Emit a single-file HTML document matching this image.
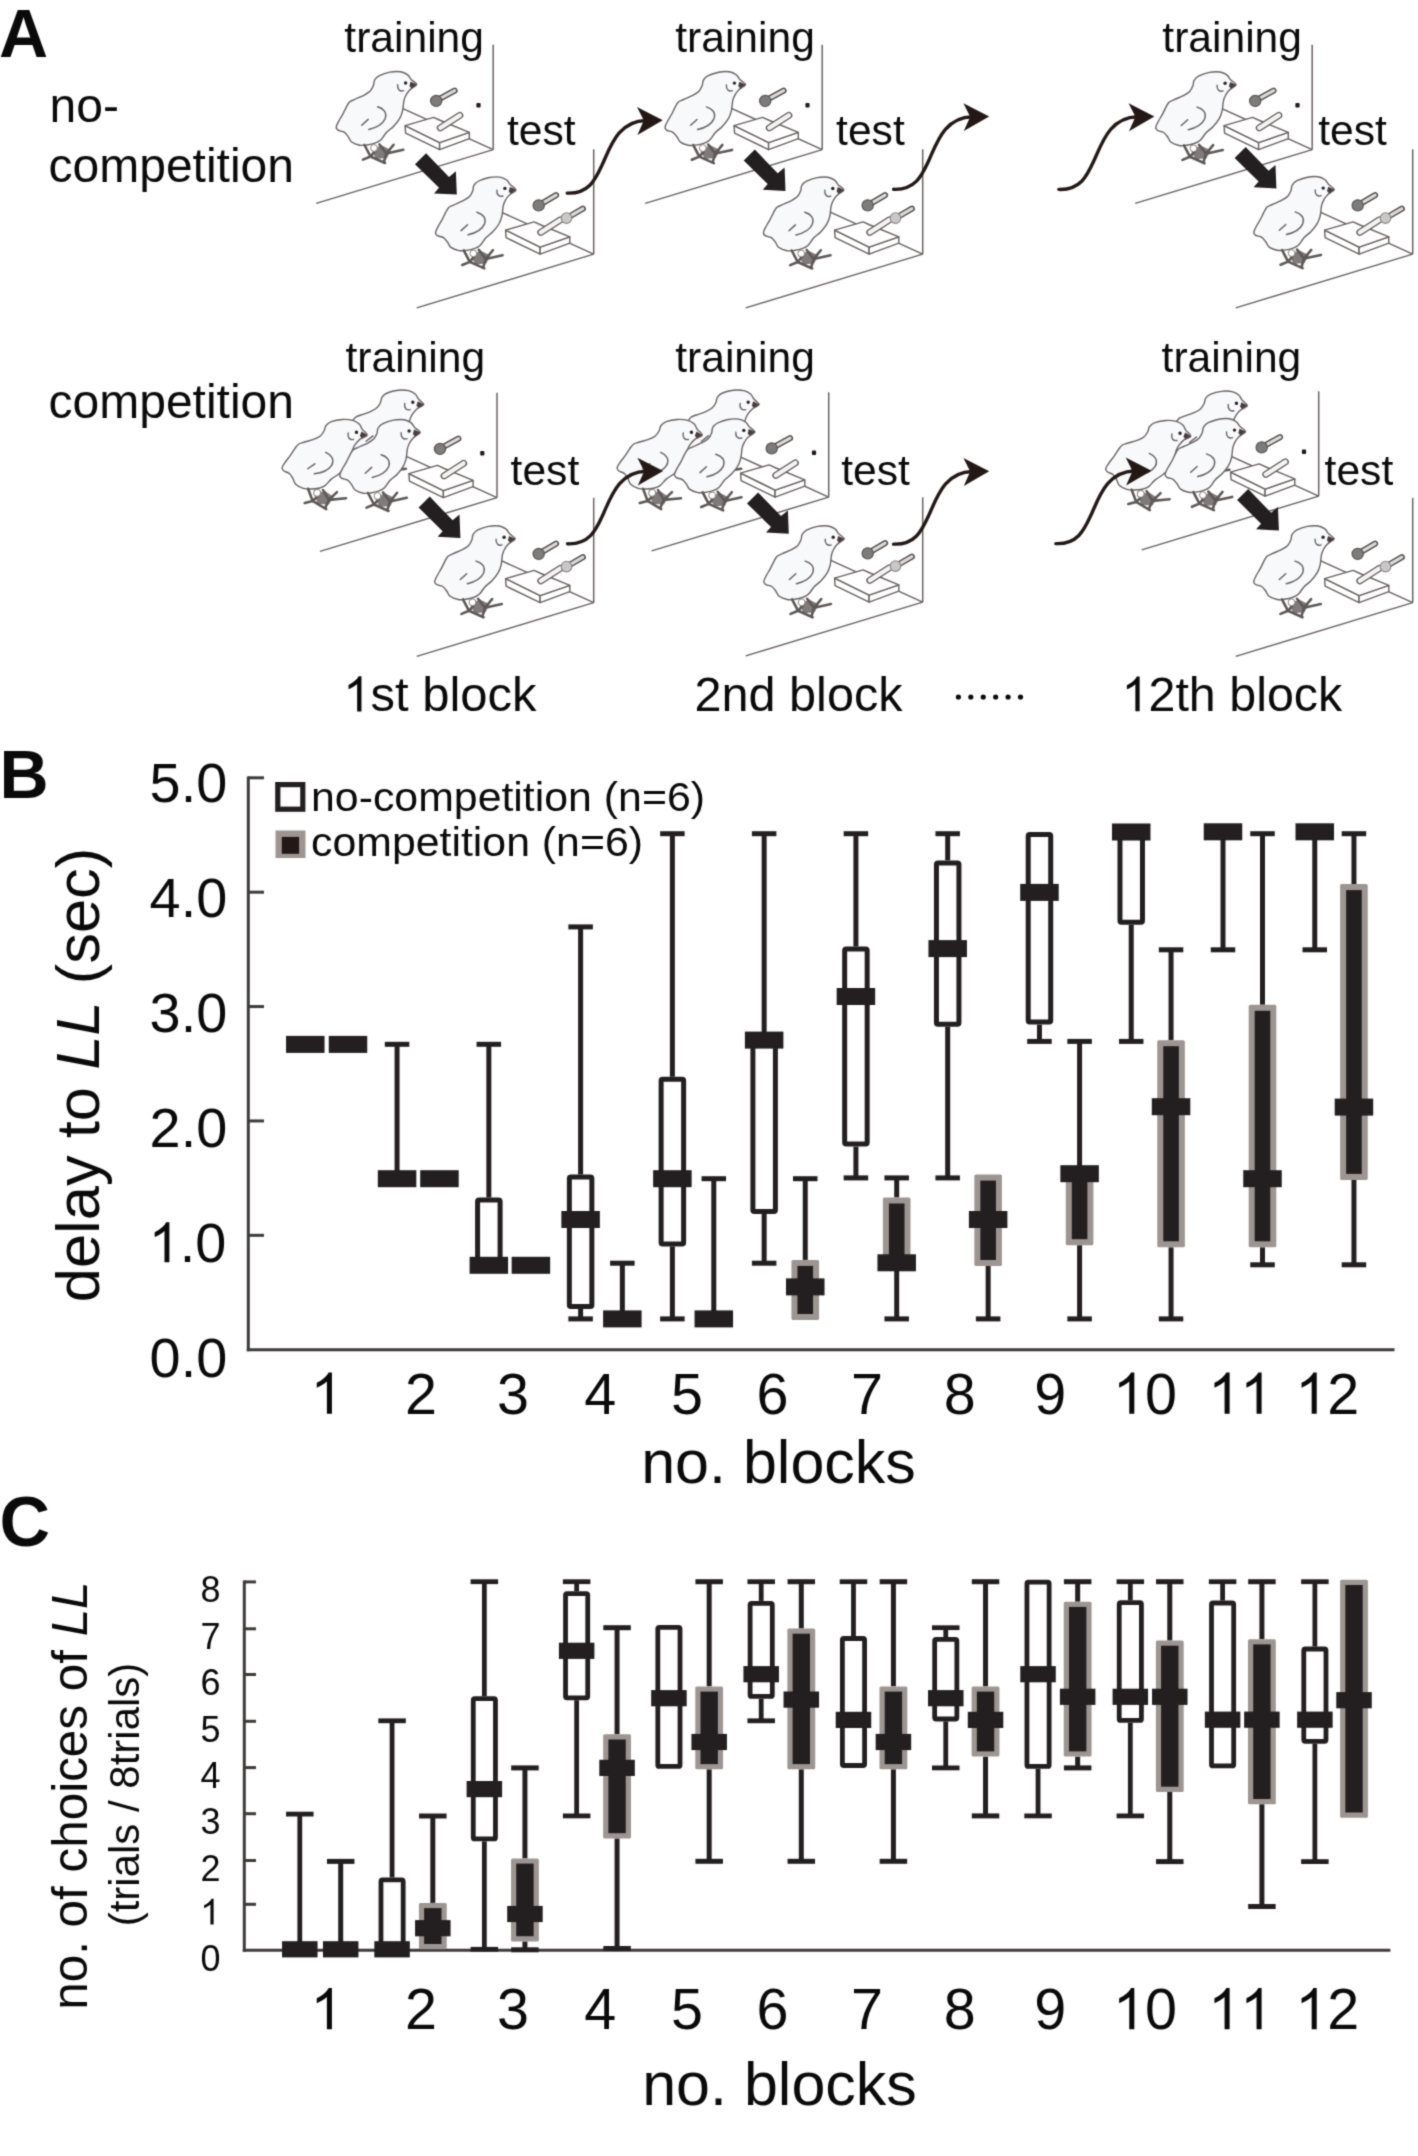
<!DOCTYPE html>
<html><head><meta charset="utf-8"><title>figure</title>
<style>html,body{margin:0;padding:0;background:#fff;overflow:hidden}svg{display:block}</style></head>
<body><svg width="1418" height="2156" viewBox="0 0 1418 2156" font-family="'Liberation Sans', sans-serif">
<defs><filter id="soft" filterUnits="userSpaceOnUse" x="0" y="0" width="1418" height="2156" color-interpolation-filters="sRGB"><feConvolveMatrix order="3" kernelMatrix="1 4 1 4 16 4 1 4 1" divisor="36" edgeMode="duplicate"/></filter></defs>
<g filter="url(#soft)">
<rect width="1418" height="2156" fill="#fff"/>
<defs>
<g id="chick">
<path d="M416.7,84.4 C416.47,83 412.65,81.03 411.1,79.4 C409.55,77.77 409.17,75.88 407.4,74.6 C405.63,73.32 403.42,72.12 400.5,71.7 C397.58,71.28 393.42,71.45 389.9,72.1 C386.38,72.75 381.95,74.28 379.4,75.6 C376.85,76.92 375.6,78.35 374.6,80 C373.6,81.65 374.13,83.65 373.4,85.5 C372.67,87.35 371.78,89.47 370.2,91.1 C368.62,92.73 366.48,93.92 363.9,95.3 C361.32,96.68 357.1,98.28 354.7,99.4 C352.3,100.52 350.92,100.68 349.5,102 C348.08,103.32 347.33,105.23 346.2,107.3 C345.07,109.37 343.9,112.17 342.7,114.4 C341.5,116.63 340.08,118.6 339,120.7 C337.92,122.8 336.37,125.42 336.2,127 C336.03,128.58 336.68,129.33 338,130.2 C339.32,131.07 342.38,131.08 344.1,132.2 C345.82,133.32 347.05,135.27 348.3,136.9 C349.55,138.53 349.72,140.62 351.6,142 C353.48,143.38 357.03,144.7 359.6,145.2 C362.17,145.7 364.43,145.33 367,145 C369.57,144.67 372.67,144.07 375,143.2 C377.33,142.33 379.1,141.57 381,139.8 C382.9,138.03 384.32,134.83 386.4,132.6 C388.48,130.37 391.3,128.73 393.5,126.4 C395.7,124.07 398.08,121.2 399.6,118.6 C401.12,116 401.87,113.85 402.6,110.8 C403.33,107.75 403.38,103 404,100.3 C404.62,97.6 405.35,96.32 406.3,94.6 C407.25,92.88 408.67,91.13 409.7,90 C410.73,88.87 411.33,88.73 412.5,87.8 C413.67,86.87 416.93,85.8 416.7,84.4Z" fill="#f8f9fb" stroke="#6a6262" stroke-width="1.4" stroke-linejoin="round"/>
<path d="M371,149 L382,145.5 L391,150 L387,158 L376,159 Z" fill="#807a7a"/>
<g stroke="#5e5858" stroke-width="2.6" stroke-linecap="round" stroke-linejoin="round" fill="none">
<path d="M364.5,145 L370.5,156.5 L363,159.6"/>
<path d="M370.5,156.5 L385,163"/>
<path d="M370.5,156.5 L376,150"/>
<path d="M379.5,144.5 L386.5,153.5 L403.3,149.8"/>
<path d="M386.5,153.5 L393.6,144.8"/>
<path d="M386.5,153.5 L384,161.5"/>
</g>
<circle cx="374" cy="148" r="3.4" fill="#fff" stroke="#8a8383" stroke-width="1"/>
<path d="M377.6,106.8 C383.5,108.5 387.5,112.5 385,119 C382,125.5 375,128 368.8,129.4" fill="none" stroke="#6a6262" stroke-width="1.5" stroke-linecap="round"/>
<path d="M361.8,125.2 L368.2,119.4" fill="none" stroke="#6a6262" stroke-width="1.5" stroke-linecap="round"/>
<path d="M397.6,84.8 C397.2,89.5 400,91.8 403.6,90.6" fill="none" stroke="#6a6262" stroke-width="1.4" stroke-linecap="round"/>
<circle cx="405.6" cy="83" r="1.7" fill="#2a2222"/>
<path d="M410.6,81.6 L416.9,84.4 L411.6,88.4 L409.4,86 Z" fill="#4a3c3c"/>
</g>
<g id="appT"><g fill="none" stroke="#6a6262" stroke-width="1.5"><line x1="493.2" y1="44.8" x2="493.2" y2="149.6"/><line x1="493.2" y1="149.6" x2="316.2" y2="203.4"/><line x1="493.2" y1="149.6" x2="398" y2="106.4"/></g><g fill="#fff" stroke="#6a6262" stroke-width="1.4" stroke-linejoin="round"><path d="M405.1,125.6 L439.6,142.6 L439.6,149.6 L405.6,133.2 Z"/><path d="M439.6,142.6 L469.3,132.4 L469.3,138.6 L439.6,149.6 Z"/><path d="M405.1,125.6 L433.6,117.4 L440.5,120.5 L469.3,132.4 L439.6,142.6 Z"/></g><line x1="440.3" y1="127.9" x2="459.8" y2="115.4" stroke="#5f5858" stroke-width="7" stroke-linecap="round"/><line x1="440.3" y1="127.9" x2="459.8" y2="115.4" stroke="#f4f3f3" stroke-width="4.4" stroke-linecap="round"/><line x1="440" y1="98.6" x2="454.6" y2="90.6" stroke="#4f4949" stroke-width="6" stroke-linecap="round"/><line x1="440" y1="98.6" x2="454.6" y2="90.6" stroke="#dcd9d9" stroke-width="3.2" stroke-linecap="round"/><circle cx="436.2" cy="100.9" r="5.6" fill="#7e7b7b" stroke="#5a5555" stroke-width="1.2"/><rect x="476.4" y="103.1" width="4.2" height="4.4" rx="1" fill="#231815"/></g>
<g id="appS"><g fill="none" stroke="#6a6262" stroke-width="1.5"><line x1="493.2" y1="44.8" x2="493.2" y2="149.6"/><line x1="493.2" y1="149.6" x2="316.2" y2="203.4"/><line x1="493.2" y1="149.6" x2="398" y2="106.4"/></g><g fill="#fff" stroke="#6a6262" stroke-width="1.4" stroke-linejoin="round"><path d="M405.1,125.6 L439.6,142.6 L439.6,149.6 L405.6,133.2 Z"/><path d="M439.6,142.6 L469.3,132.4 L469.3,138.6 L439.6,149.6 Z"/><path d="M405.1,125.6 L433.6,117.4 L440.5,120.5 L469.3,132.4 L439.6,142.6 Z"/></g><line x1="440.3" y1="127.9" x2="459.8" y2="115.4" stroke="#5f5858" stroke-width="7" stroke-linecap="round"/><line x1="440.3" y1="127.9" x2="459.8" y2="115.4" stroke="#f4f3f3" stroke-width="4.4" stroke-linecap="round"/><line x1="442" y1="98.6" x2="455.6" y2="90.6" stroke="#4f4949" stroke-width="6" stroke-linecap="round"/><line x1="442" y1="98.6" x2="455.6" y2="90.6" stroke="#dcd9d9" stroke-width="3.2" stroke-linecap="round"/><circle cx="438.2" cy="100.9" r="5.6" fill="#7e7b7b" stroke="#5a5555" stroke-width="1.2"/><line x1="468" y1="112.5" x2="482.4" y2="104.2" stroke="#4f4949" stroke-width="6" stroke-linecap="round"/><line x1="468" y1="112.5" x2="482.4" y2="104.2" stroke="#dcd9d9" stroke-width="3.2" stroke-linecap="round"/><circle cx="466" cy="113.6" r="5.3" fill="#c9c8c8" stroke="#8a8585" stroke-width="1.1"/></g>
<path id="barrow" d="M426.1,153.2 L449,176.9 L455.9,171.2 L456.8,194.6 L434,193.4 L439,187.8 L415,164.2 Z" fill="#231f20"/>
<g id="carrow"><path d="M567.2,193.1 C590,194 596,178 603,163 C611,145 619,121 646,120.5" fill="none" stroke="#231815" stroke-width="3.4" stroke-linecap="round"/><path d="M662.8,120.3 L637,107 L643.8,120.5 L637.4,134.9 Z" fill="#231815"/></g>
</defs>
<use href="#appT" transform="translate(0,0)"/>
<use href="#chick" transform="translate(0,0)"/>
<use href="#barrow" transform="translate(0,0)"/>
<use href="#appS" transform="translate(100.5,104.5)"/>
<use href="#chick" transform="translate(99.3,105.4)"/>
<use href="#appT" transform="translate(329,0)"/>
<use href="#chick" transform="translate(328.8,0.1)"/>
<use href="#barrow" transform="translate(328.7,-3.7)"/>
<use href="#appS" transform="translate(429.5,104.5)"/>
<use href="#chick" transform="translate(427.2,105.5)"/>
<use href="#appT" transform="translate(819,0)"/>
<use href="#chick" transform="translate(819.5,0.3)"/>
<use href="#barrow" transform="translate(819.6,-6.2)"/>
<use href="#appS" transform="translate(919.5,104.5)"/>
<use href="#chick" transform="translate(917.6,105.1)"/>
<use href="#appT" transform="translate(3.8,348)"/>
<use href="#chick" transform="translate(7.07,319.98) rotate(4,416.7,84.4)"/>
<use href="#chick" transform="translate(-49.45,350.55) rotate(7,416.7,84.4)"/>
<use href="#chick" transform="translate(3.5,348)"/>
<use href="#barrow" transform="translate(3.6,343.4)"/>
<use href="#appS" transform="translate(100.5,453)"/>
<use href="#chick" transform="translate(98.5,454.3)"/>
<use href="#appT" transform="translate(335.5,347.5)"/>
<use href="#chick" transform="translate(342.47,319.98) rotate(4,416.7,84.4)"/>
<use href="#chick" transform="translate(285.55,350.55) rotate(7,416.7,84.4)"/>
<use href="#chick" transform="translate(338.2,347.4)"/>
<use href="#barrow" transform="translate(332,339.2)"/>
<use href="#appS" transform="translate(429.5,452.5)"/>
<use href="#chick" transform="translate(427.6,454.3)"/>
<use href="#appT" transform="translate(825.5,346.5)"/>
<use href="#chick" transform="translate(830.67,321.08) rotate(4,416.7,84.4)"/>
<use href="#chick" transform="translate(774.15,351.55) rotate(7,416.7,84.4)"/>
<use href="#chick" transform="translate(828.9,347.1)"/>
<use href="#barrow" transform="translate(822.1,335.9)"/>
<use href="#appS" transform="translate(919.5,453)"/>
<use href="#chick" transform="translate(917.5,454.3)"/>
<use href="#carrow" transform="translate(0,0)"/>
<use href="#carrow" transform="translate(326.4,-3.8)"/>
<use href="#carrow" transform="translate(491.6,-3.7)"/>
<use href="#carrow" transform="translate(0.4,350.7)"/>
<use href="#carrow" transform="translate(326.4,351)"/>
<use href="#carrow" transform="translate(488.7,350.5)"/>
<text x="-1" y="56.7" font-size="68" text-anchor="start" font-weight="bold" font-style="normal" fill="#0a0a0a">A</text>
<text x="49.5" y="122.1" font-size="48" text-anchor="start" font-weight="normal" font-style="normal" fill="#0a0a0a">no-</text>
<text x="48.5" y="181.7" font-size="48" text-anchor="start" font-weight="normal" font-style="normal" fill="#0a0a0a">competition</text>
<text x="48.5" y="418.3" font-size="48" text-anchor="start" font-weight="normal" font-style="normal" fill="#0a0a0a">competition</text>
<text x="344.3" y="51.9" font-size="42.6" text-anchor="start" font-weight="normal" font-style="normal" fill="#0a0a0a">training</text>
<text x="506.9" y="145" font-size="42.6" text-anchor="start" font-weight="normal" font-style="normal" fill="#0a0a0a">test</text>
<text x="675.2" y="51.9" font-size="42.6" text-anchor="start" font-weight="normal" font-style="normal" fill="#0a0a0a">training</text>
<text x="836.1" y="145" font-size="42.6" text-anchor="start" font-weight="normal" font-style="normal" fill="#0a0a0a">test</text>
<text x="1162.3" y="51.9" font-size="42.6" text-anchor="start" font-weight="normal" font-style="normal" fill="#0a0a0a">training</text>
<text x="1318.2" y="145" font-size="42.6" text-anchor="start" font-weight="normal" font-style="normal" fill="#0a0a0a">test</text>
<text x="345.5" y="372" font-size="42.6" text-anchor="start" font-weight="normal" font-style="normal" fill="#0a0a0a">training</text>
<text x="510.6" y="485" font-size="42.6" text-anchor="start" font-weight="normal" font-style="normal" fill="#0a0a0a">test</text>
<text x="675.2" y="372" font-size="42.6" text-anchor="start" font-weight="normal" font-style="normal" fill="#0a0a0a">training</text>
<text x="841.2" y="485" font-size="42.6" text-anchor="start" font-weight="normal" font-style="normal" fill="#0a0a0a">test</text>
<text x="1161.6" y="372" font-size="42.6" text-anchor="start" font-weight="normal" font-style="normal" fill="#0a0a0a">training</text>
<text x="1324.6" y="485" font-size="42.6" text-anchor="start" font-weight="normal" font-style="normal" fill="#0a0a0a">test</text>
<path d="M763 0H583V1147Q518 1085 412.5 1023Q307 961 223 930V1104Q374 1175 487 1276Q600 1377 647 1472H763V0Z" fill="#0a0a0a" transform="matrix(0.02393,0,0,-0.02393,343.2,711.4)"/>
<text x="370.45" y="711.4" font-size="49" fill="#0a0a0a" style="font-kerning:none">st&#160;block</text>
<text x="694.5" y="710.9" font-size="48.6" text-anchor="start" font-weight="normal" font-style="normal" fill="#0a0a0a">2nd block</text>
<path d="M763 0H583V1147Q518 1085 412.5 1023Q307 961 223 930V1104Q374 1175 487 1276Q600 1377 647 1472H763V0Z" fill="#0a0a0a" transform="matrix(0.02363,0,0,-0.02363,1121.6,711.3)"/>
<text x="1148.52" y="711.3" font-size="48.4" fill="#0a0a0a" style="font-kerning:none">2th&#160;block</text>
<circle cx="958.4" cy="697" r="2.6" fill="#0a0a0a"/>
<circle cx="970.82" cy="697" r="2.6" fill="#0a0a0a"/>
<circle cx="983.24" cy="697" r="2.6" fill="#0a0a0a"/>
<circle cx="995.66" cy="697" r="2.6" fill="#0a0a0a"/>
<circle cx="1008.08" cy="697" r="2.6" fill="#0a0a0a"/>
<circle cx="1020.5" cy="697" r="2.6" fill="#0a0a0a"/>
<text x="-0.5" y="797.7" font-size="68" text-anchor="start" font-weight="bold" font-style="normal" fill="#0a0a0a">B</text>
<g stroke="#3e3a3a" stroke-width="3" fill="none">
<line x1="248.3" y1="776.4" x2="248.3" y2="1351.2"/>
<line x1="246.8" y1="1349.7" x2="1394.5" y2="1349.7"/>
<line x1="248" y1="1235.32" x2="264" y2="1235.32"/>
<line x1="248" y1="1120.94" x2="264" y2="1120.94"/>
<line x1="248" y1="1006.56" x2="264" y2="1006.56"/>
<line x1="248" y1="892.18" x2="264" y2="892.18"/>
<line x1="248" y1="777.8" x2="264" y2="777.8"/>
</g>
<text x="227.2" y="1377.4" font-size="55.8" text-anchor="end" font-weight="normal" font-style="normal" fill="#0a0a0a">0.0</text>
<path d="M763 0H583V1147Q518 1085 412.5 1023Q307 961 223 930V1104Q374 1175 487 1276Q600 1377 647 1472H763V0Z" fill="#0a0a0a" transform="matrix(0.02725,0,0,-0.02725,148.6,1262.3)"/>
<text x="179.63" y="1262.3" font-size="55.8" fill="#0a0a0a" style="font-kerning:none">.0</text>
<text x="227.2" y="1147.2" font-size="55.8" text-anchor="end" font-weight="normal" font-style="normal" fill="#0a0a0a">2.0</text>
<text x="227.2" y="1032.1" font-size="55.8" text-anchor="end" font-weight="normal" font-style="normal" fill="#0a0a0a">3.0</text>
<text x="227.2" y="917" font-size="55.8" text-anchor="end" font-weight="normal" font-style="normal" fill="#0a0a0a">4.0</text>
<text x="227.2" y="801.9" font-size="55.8" text-anchor="end" font-weight="normal" font-style="normal" fill="#0a0a0a">5.0</text>
<path d="M763 0H583V1147Q518 1085 412.5 1023Q307 961 223 930V1104Q374 1175 487 1276Q600 1377 647 1472H763V0Z" fill="#0a0a0a" transform="matrix(0.02808,0,0,-0.02808,310.5,1413.8)"/>
<text x="421.1" y="1413.8" font-size="57.5" text-anchor="middle" font-weight="normal" font-style="normal" fill="#0a0a0a">2</text>
<text x="513" y="1413.8" font-size="57.5" text-anchor="middle" font-weight="normal" font-style="normal" fill="#0a0a0a">3</text>
<text x="600.2" y="1413.8" font-size="57.5" text-anchor="middle" font-weight="normal" font-style="normal" fill="#0a0a0a">4</text>
<text x="686.9" y="1413.8" font-size="57.5" text-anchor="middle" font-weight="normal" font-style="normal" fill="#0a0a0a">5</text>
<text x="772.4" y="1413.8" font-size="57.5" text-anchor="middle" font-weight="normal" font-style="normal" fill="#0a0a0a">6</text>
<text x="867" y="1413.8" font-size="57.5" text-anchor="middle" font-weight="normal" font-style="normal" fill="#0a0a0a">7</text>
<text x="959.7" y="1413.8" font-size="57.5" text-anchor="middle" font-weight="normal" font-style="normal" fill="#0a0a0a">8</text>
<text x="1050.3" y="1413.8" font-size="57.5" text-anchor="middle" font-weight="normal" font-style="normal" fill="#0a0a0a">9</text>
<path d="M763 0H583V1147Q518 1085 412.5 1023Q307 961 223 930V1104Q374 1175 487 1276Q600 1377 647 1472H763V0Z" fill="#0a0a0a" transform="matrix(0.02808,0,0,-0.02808,1112.9,1413.8)"/>
<text x="1144.88" y="1413.8" font-size="57.5" fill="#0a0a0a" style="font-kerning:none">0</text>
<path d="M763 0H583V1147Q518 1085 412.5 1023Q307 961 223 930V1104Q374 1175 487 1276Q600 1377 647 1472H763V0Z" fill="#0a0a0a" transform="matrix(0.02808,0,0,-0.02808,1208.2,1413.8)"/>
<path d="M763 0H583V1147Q518 1085 412.5 1023Q307 961 223 930V1104Q374 1175 487 1276Q600 1377 647 1472H763V0Z" fill="#0a0a0a" transform="matrix(0.02808,0,0,-0.02808,1240.18,1413.8)"/>
<path d="M763 0H583V1147Q518 1085 412.5 1023Q307 961 223 930V1104Q374 1175 487 1276Q600 1377 647 1472H763V0Z" fill="#0a0a0a" transform="matrix(0.02808,0,0,-0.02808,1295.3,1413.8)"/>
<text x="1327.28" y="1413.8" font-size="57.5" fill="#0a0a0a" style="font-kerning:none">2</text>
<text x="778.5" y="1483.2" font-size="61" text-anchor="middle" font-weight="normal" font-style="normal" fill="#0a0a0a">no. blocks</text>
<text transform="translate(98.6,1075) rotate(-90)" font-size="61.5" text-anchor="middle" fill="#0a0a0a">delay to <tspan font-style="italic">LL</tspan> (sec)</text>
<rect x="277.8" y="784.6" width="25" height="24.6" fill="#fff" stroke="#231f20" stroke-width="5.2"/>
<rect x="275.5" y="830.5" width="30" height="27.5" fill="#9d9591"/>
<rect x="281.8" y="836.9" width="17.3" height="16.9" fill="#231815"/>
<text x="311" y="811.3" font-size="41" text-anchor="start" font-weight="normal" font-style="normal" fill="#0a0a0a" textLength="394" lengthAdjust="spacingAndGlyphs">no-competition (n=6)</text>
<text x="311" y="855.7" font-size="41" text-anchor="start" font-weight="normal" font-style="normal" fill="#0a0a0a" textLength="332" lengthAdjust="spacingAndGlyphs">competition (n=6)</text>
<rect x="286.05" y="1035.9" width="38.5" height="17" fill="#231f20"/>
<rect x="328.75" y="1035.9" width="38.5" height="17" fill="#231f20"/>
<line x1="397.07" y1="1044.3" x2="397.07" y2="1178.7" stroke="#231f20" stroke-width="5"/><line x1="384.82" y1="1044.3" x2="409.32" y2="1044.3" stroke="#231f20" stroke-width="5"/><rect x="377.82" y="1170.2" width="38.5" height="17" fill="#231f20"/>
<rect x="420.2" y="1170.2" width="38.5" height="17" fill="#231f20"/>
<line x1="488.84" y1="1044.3" x2="488.84" y2="1197.5" stroke="#231f20" stroke-width="5"/><line x1="476.59" y1="1044.3" x2="501.09" y2="1044.3" stroke="#231f20" stroke-width="5"/><rect x="477.59" y="1200" width="22.5" height="62.8" fill="#fff" stroke="#231f20" stroke-width="5" rx="1.5"/><rect x="469.59" y="1256.8" width="38.5" height="17" fill="#231f20"/>
<rect x="511.65" y="1256.8" width="38.5" height="17" fill="#231f20"/>
<line x1="580.61" y1="926.9" x2="580.61" y2="1174.6" stroke="#231f20" stroke-width="5"/><line x1="568.36" y1="926.9" x2="592.86" y2="926.9" stroke="#231f20" stroke-width="5"/><line x1="580.61" y1="1308.9" x2="580.61" y2="1318.9" stroke="#231f20" stroke-width="5"/><line x1="568.36" y1="1318.9" x2="592.86" y2="1318.9" stroke="#231f20" stroke-width="5"/><rect x="569.36" y="1177.1" width="22.5" height="129.3" fill="#fff" stroke="#231f20" stroke-width="5" rx="1.5"/><rect x="561.36" y="1211" width="38.5" height="17" fill="#231f20"/>
<line x1="622.35" y1="1263.2" x2="622.35" y2="1318.9" stroke="#231f20" stroke-width="5"/><line x1="610.1" y1="1263.2" x2="634.6" y2="1263.2" stroke="#231f20" stroke-width="5"/><rect x="603.1" y="1310.4" width="38.5" height="17" fill="#231f20"/>
<line x1="672.38" y1="833.7" x2="672.38" y2="1076.8" stroke="#231f20" stroke-width="5"/><line x1="660.13" y1="833.7" x2="684.63" y2="833.7" stroke="#231f20" stroke-width="5"/><line x1="672.38" y1="1246.4" x2="672.38" y2="1318.9" stroke="#231f20" stroke-width="5"/><line x1="660.13" y1="1318.9" x2="684.63" y2="1318.9" stroke="#231f20" stroke-width="5"/><rect x="661.13" y="1079.3" width="22.5" height="164.6" fill="#fff" stroke="#231f20" stroke-width="5" rx="1.5"/><rect x="653.13" y="1170.2" width="38.5" height="17" fill="#231f20"/>
<line x1="713.8" y1="1178.7" x2="713.8" y2="1318.9" stroke="#231f20" stroke-width="5"/><line x1="701.55" y1="1178.7" x2="726.05" y2="1178.7" stroke="#231f20" stroke-width="5"/><rect x="694.55" y="1310.4" width="38.5" height="17" fill="#231f20"/>
<line x1="764.15" y1="833.7" x2="764.15" y2="1040.1" stroke="#231f20" stroke-width="5"/><line x1="751.9" y1="833.7" x2="776.4" y2="833.7" stroke="#231f20" stroke-width="5"/><line x1="764.15" y1="1214" x2="764.15" y2="1263.2" stroke="#231f20" stroke-width="5"/><line x1="751.9" y1="1263.2" x2="776.4" y2="1263.2" stroke="#231f20" stroke-width="5"/><rect x="752.9" y="1042.6" width="22.5" height="168.9" fill="#fff" stroke="#231f20" stroke-width="5" rx="1.5"/><rect x="744.9" y="1031.6" width="38.5" height="17" fill="#231f20"/>
<line x1="805.25" y1="1178.7" x2="805.25" y2="1259.9" stroke="#231f20" stroke-width="5"/><line x1="793" y1="1178.7" x2="817.5" y2="1178.7" stroke="#231f20" stroke-width="5"/><rect x="791.45" y="1259.9" width="27.6" height="60.1" fill="#9d9591" rx="1.5"/><rect x="797.45" y="1265.9" width="15.6" height="48.1" fill="#231f20"/><rect x="786" y="1278.4" width="38.5" height="17" fill="#231f20"/>
<line x1="855.92" y1="833.7" x2="855.92" y2="946.5" stroke="#231f20" stroke-width="5"/><line x1="843.67" y1="833.7" x2="868.17" y2="833.7" stroke="#231f20" stroke-width="5"/><line x1="855.92" y1="1146.6" x2="855.92" y2="1177.9" stroke="#231f20" stroke-width="5"/><line x1="843.67" y1="1177.9" x2="868.17" y2="1177.9" stroke="#231f20" stroke-width="5"/><rect x="844.67" y="949" width="22.5" height="195.1" fill="#fff" stroke="#231f20" stroke-width="5" rx="1.5"/><rect x="836.67" y="988" width="38.5" height="17" fill="#231f20"/>
<line x1="896.7" y1="1177.9" x2="896.7" y2="1197.5" stroke="#231f20" stroke-width="5"/><line x1="884.45" y1="1177.9" x2="908.95" y2="1177.9" stroke="#231f20" stroke-width="5"/><line x1="896.7" y1="1266" x2="896.7" y2="1318.9" stroke="#231f20" stroke-width="5"/><line x1="884.45" y1="1318.9" x2="908.95" y2="1318.9" stroke="#231f20" stroke-width="5"/><rect x="882.9" y="1197.5" width="27.6" height="68.5" fill="#9d9591" rx="1.5"/><rect x="888.9" y="1203.5" width="15.6" height="56.5" fill="#231f20"/><rect x="877.45" y="1254.3" width="38.5" height="17" fill="#231f20"/>
<line x1="947.69" y1="833.7" x2="947.69" y2="860.4" stroke="#231f20" stroke-width="5"/><line x1="935.44" y1="833.7" x2="959.94" y2="833.7" stroke="#231f20" stroke-width="5"/><line x1="947.69" y1="1026.7" x2="947.69" y2="1177.9" stroke="#231f20" stroke-width="5"/><line x1="935.44" y1="1177.9" x2="959.94" y2="1177.9" stroke="#231f20" stroke-width="5"/><rect x="936.44" y="862.9" width="22.5" height="161.3" fill="#fff" stroke="#231f20" stroke-width="5" rx="1.5"/><rect x="928.44" y="940.1" width="38.5" height="17" fill="#231f20"/>
<line x1="988.15" y1="1266" x2="988.15" y2="1318.9" stroke="#231f20" stroke-width="5"/><line x1="975.9" y1="1318.9" x2="1000.4" y2="1318.9" stroke="#231f20" stroke-width="5"/><rect x="974.35" y="1174.6" width="27.6" height="91.4" fill="#9d9591" rx="1.5"/><rect x="980.35" y="1180.6" width="15.6" height="79.4" fill="#231f20"/><rect x="968.9" y="1211" width="38.5" height="17" fill="#231f20"/>
<line x1="1039.46" y1="1024.6" x2="1039.46" y2="1041.4" stroke="#231f20" stroke-width="5"/><line x1="1027.21" y1="1041.4" x2="1051.71" y2="1041.4" stroke="#231f20" stroke-width="5"/><rect x="1028.21" y="834.5" width="22.5" height="187.6" fill="#fff" stroke="#231f20" stroke-width="5" rx="1.5"/><rect x="1020.21" y="883.9" width="38.5" height="17" fill="#231f20"/>
<line x1="1079.6" y1="1041.4" x2="1079.6" y2="1171.7" stroke="#231f20" stroke-width="5"/><line x1="1067.35" y1="1041.4" x2="1091.85" y2="1041.4" stroke="#231f20" stroke-width="5"/><line x1="1079.6" y1="1245.2" x2="1079.6" y2="1318.9" stroke="#231f20" stroke-width="5"/><line x1="1067.35" y1="1318.9" x2="1091.85" y2="1318.9" stroke="#231f20" stroke-width="5"/><rect x="1065.8" y="1171.7" width="27.6" height="73.5" fill="#9d9591" rx="1.5"/><rect x="1071.8" y="1177.7" width="15.6" height="61.5" fill="#231f20"/><rect x="1060.35" y="1165.2" width="38.5" height="17" fill="#231f20"/>
<line x1="1131.23" y1="924.8" x2="1131.23" y2="1041.4" stroke="#231f20" stroke-width="5"/><line x1="1118.98" y1="1041.4" x2="1143.48" y2="1041.4" stroke="#231f20" stroke-width="5"/><rect x="1119.98" y="834.5" width="22.5" height="87.8" fill="#fff" stroke="#231f20" stroke-width="5" rx="1.5"/><rect x="1111.98" y="823.5" width="38.5" height="17" fill="#231f20"/>
<line x1="1171.05" y1="949.8" x2="1171.05" y2="1040.2" stroke="#231f20" stroke-width="5"/><line x1="1158.8" y1="949.8" x2="1183.3" y2="949.8" stroke="#231f20" stroke-width="5"/><line x1="1171.05" y1="1247.3" x2="1171.05" y2="1318.9" stroke="#231f20" stroke-width="5"/><line x1="1158.8" y1="1318.9" x2="1183.3" y2="1318.9" stroke="#231f20" stroke-width="5"/><rect x="1157.25" y="1040.2" width="27.6" height="207.1" fill="#9d9591" rx="1.5"/><rect x="1163.25" y="1046.2" width="15.6" height="195.1" fill="#231f20"/><rect x="1151.8" y="1098.2" width="38.5" height="17" fill="#231f20"/>
<line x1="1223" y1="831.8" x2="1223" y2="949.8" stroke="#231f20" stroke-width="5"/><line x1="1210.75" y1="949.8" x2="1235.25" y2="949.8" stroke="#231f20" stroke-width="5"/><rect x="1203.75" y="823.3" width="38.5" height="17" fill="#231f20"/>
<line x1="1262.5" y1="833.7" x2="1262.5" y2="1004.8" stroke="#231f20" stroke-width="5"/><line x1="1250.25" y1="833.7" x2="1274.75" y2="833.7" stroke="#231f20" stroke-width="5"/><line x1="1262.5" y1="1247.3" x2="1262.5" y2="1264.8" stroke="#231f20" stroke-width="5"/><line x1="1250.25" y1="1264.8" x2="1274.75" y2="1264.8" stroke="#231f20" stroke-width="5"/><rect x="1248.7" y="1004.8" width="27.6" height="242.5" fill="#9d9591" rx="1.5"/><rect x="1254.7" y="1010.8" width="15.6" height="230.5" fill="#231f20"/><rect x="1243.25" y="1170.2" width="38.5" height="17" fill="#231f20"/>
<line x1="1314.77" y1="831.8" x2="1314.77" y2="949.8" stroke="#231f20" stroke-width="5"/><line x1="1302.52" y1="949.8" x2="1327.02" y2="949.8" stroke="#231f20" stroke-width="5"/><rect x="1295.52" y="823.3" width="38.5" height="17" fill="#231f20"/>
<line x1="1353.95" y1="833.7" x2="1353.95" y2="884.1" stroke="#231f20" stroke-width="5"/><line x1="1341.7" y1="833.7" x2="1366.2" y2="833.7" stroke="#231f20" stroke-width="5"/><line x1="1353.95" y1="1179.9" x2="1353.95" y2="1264.8" stroke="#231f20" stroke-width="5"/><line x1="1341.7" y1="1264.8" x2="1366.2" y2="1264.8" stroke="#231f20" stroke-width="5"/><rect x="1340.15" y="884.1" width="27.6" height="295.8" fill="#9d9591" rx="1.5"/><rect x="1346.15" y="890.1" width="15.6" height="283.8" fill="#231f20"/><rect x="1334.7" y="1098.6" width="38.5" height="17" fill="#231f20"/>
<text x="-0.5" y="1545.8" font-size="70" text-anchor="start" font-weight="bold" font-style="normal" fill="#0a0a0a">C</text>
<g stroke="#3e3a3a" stroke-width="3" fill="none">
<line x1="244.3" y1="1580.4" x2="244.3" y2="1951.8"/>
<line x1="242.8" y1="1950.3" x2="1390.4" y2="1950.3"/>
<line x1="244" y1="1904.3" x2="256" y2="1904.3"/>
<line x1="244" y1="1860.5" x2="256" y2="1860.5"/>
<line x1="244" y1="1813.7" x2="256" y2="1813.7"/>
<line x1="244" y1="1767.6" x2="256" y2="1767.6"/>
<line x1="244" y1="1721.3" x2="256" y2="1721.3"/>
<line x1="244" y1="1674.5" x2="256" y2="1674.5"/>
<line x1="244" y1="1628.8" x2="256" y2="1628.8"/>
<line x1="244" y1="1581.9" x2="256" y2="1581.9"/>
</g>
<text x="220.5" y="1970.6" font-size="36" text-anchor="end" font-weight="normal" font-style="normal" fill="#0a0a0a">0</text>
<path d="M763 0H583V1147Q518 1085 412.5 1023Q307 961 223 930V1104Q374 1175 487 1276Q600 1377 647 1472H763V0Z" fill="#0a0a0a" transform="matrix(0.01758,0,0,-0.01758,200.2,1924.6)"/>
<text x="220.5" y="1880.8" font-size="36" text-anchor="end" font-weight="normal" font-style="normal" fill="#0a0a0a">2</text>
<text x="220.5" y="1834" font-size="36" text-anchor="end" font-weight="normal" font-style="normal" fill="#0a0a0a">3</text>
<text x="220.5" y="1787.9" font-size="36" text-anchor="end" font-weight="normal" font-style="normal" fill="#0a0a0a">4</text>
<text x="220.5" y="1741.6" font-size="36" text-anchor="end" font-weight="normal" font-style="normal" fill="#0a0a0a">5</text>
<text x="220.5" y="1694.8" font-size="36" text-anchor="end" font-weight="normal" font-style="normal" fill="#0a0a0a">6</text>
<text x="220.5" y="1649.1" font-size="36" text-anchor="end" font-weight="normal" font-style="normal" fill="#0a0a0a">7</text>
<text x="220.5" y="1602.2" font-size="36" text-anchor="end" font-weight="normal" font-style="normal" fill="#0a0a0a">8</text>
<path d="M763 0H583V1147Q518 1085 412.5 1023Q307 961 223 930V1104Q374 1175 487 1276Q600 1377 647 1472H763V0Z" fill="#0a0a0a" transform="matrix(0.02808,0,0,-0.02808,310.5,2029.3)"/>
<text x="421.1" y="2029.3" font-size="57.5" text-anchor="middle" font-weight="normal" font-style="normal" fill="#0a0a0a">2</text>
<text x="513" y="2029.3" font-size="57.5" text-anchor="middle" font-weight="normal" font-style="normal" fill="#0a0a0a">3</text>
<text x="600.2" y="2029.3" font-size="57.5" text-anchor="middle" font-weight="normal" font-style="normal" fill="#0a0a0a">4</text>
<text x="686.9" y="2029.3" font-size="57.5" text-anchor="middle" font-weight="normal" font-style="normal" fill="#0a0a0a">5</text>
<text x="772.4" y="2029.3" font-size="57.5" text-anchor="middle" font-weight="normal" font-style="normal" fill="#0a0a0a">6</text>
<text x="867" y="2029.3" font-size="57.5" text-anchor="middle" font-weight="normal" font-style="normal" fill="#0a0a0a">7</text>
<text x="959.7" y="2029.3" font-size="57.5" text-anchor="middle" font-weight="normal" font-style="normal" fill="#0a0a0a">8</text>
<text x="1050.3" y="2029.3" font-size="57.5" text-anchor="middle" font-weight="normal" font-style="normal" fill="#0a0a0a">9</text>
<path d="M763 0H583V1147Q518 1085 412.5 1023Q307 961 223 930V1104Q374 1175 487 1276Q600 1377 647 1472H763V0Z" fill="#0a0a0a" transform="matrix(0.02808,0,0,-0.02808,1112.9,2029.3)"/>
<text x="1144.88" y="2029.3" font-size="57.5" fill="#0a0a0a" style="font-kerning:none">0</text>
<path d="M763 0H583V1147Q518 1085 412.5 1023Q307 961 223 930V1104Q374 1175 487 1276Q600 1377 647 1472H763V0Z" fill="#0a0a0a" transform="matrix(0.02808,0,0,-0.02808,1208.2,2029.3)"/>
<path d="M763 0H583V1147Q518 1085 412.5 1023Q307 961 223 930V1104Q374 1175 487 1276Q600 1377 647 1472H763V0Z" fill="#0a0a0a" transform="matrix(0.02808,0,0,-0.02808,1240.18,2029.3)"/>
<path d="M763 0H583V1147Q518 1085 412.5 1023Q307 961 223 930V1104Q374 1175 487 1276Q600 1377 647 1472H763V0Z" fill="#0a0a0a" transform="matrix(0.02808,0,0,-0.02808,1295.3,2029.3)"/>
<text x="1327.28" y="2029.3" font-size="57.5" fill="#0a0a0a" style="font-kerning:none">2</text>
<text x="779.5" y="2104.5" font-size="61" text-anchor="middle" font-weight="normal" font-style="normal" fill="#0a0a0a">no. blocks</text>
<text transform="translate(86.5,1795.6) rotate(-90)" font-size="49.4" text-anchor="middle" fill="#0a0a0a">no. of choices of <tspan font-style="italic">LL</tspan></text>
<text transform="translate(139.2,1794.5) rotate(-90)" font-size="42" text-anchor="middle" fill="#0a0a0a">(trials / 8trials)</text>
<line x1="299.8" y1="1814.1" x2="299.8" y2="1949.3" stroke="#231f20" stroke-width="4.8"/><line x1="286.05" y1="1814.1" x2="313.55" y2="1814.1" stroke="#231f20" stroke-width="4.8"/><rect x="282.05" y="1941.2" width="35.5" height="16.2" fill="#231f20"/>
<line x1="340.7" y1="1861.4" x2="340.7" y2="1949.3" stroke="#231f20" stroke-width="5"/><line x1="326.95" y1="1861.4" x2="354.45" y2="1861.4" stroke="#231f20" stroke-width="5"/><rect x="322.95" y="1941.2" width="35.5" height="16.2" fill="#231f20"/>
<line x1="392.08" y1="1720.8" x2="392.08" y2="1877.5" stroke="#231f20" stroke-width="4.8"/><line x1="378.33" y1="1720.8" x2="405.83" y2="1720.8" stroke="#231f20" stroke-width="4.8"/><rect x="380.98" y="1879.9" width="22.2" height="67" fill="#fff" stroke="#231f20" stroke-width="4.8" rx="1.5"/><rect x="374.33" y="1941.2" width="35.5" height="16.2" fill="#231f20"/>
<line x1="432.82" y1="1816" x2="432.82" y2="1902.9" stroke="#231f20" stroke-width="5"/><line x1="419.07" y1="1816" x2="446.57" y2="1816" stroke="#231f20" stroke-width="5"/><rect x="418.92" y="1902.9" width="27.8" height="46.3" fill="#9d9591" rx="1.5"/><rect x="424.12" y="1908.1" width="17.4" height="35.9" fill="#231f20"/><rect x="415.07" y="1920.1" width="35.5" height="16.2" fill="#231f20"/>
<line x1="484.36" y1="1581.7" x2="484.36" y2="1696.2" stroke="#231f20" stroke-width="4.8"/><line x1="470.61" y1="1581.7" x2="498.11" y2="1581.7" stroke="#231f20" stroke-width="4.8"/><line x1="484.36" y1="1841.3" x2="484.36" y2="1949.3" stroke="#231f20" stroke-width="4.8"/><line x1="470.61" y1="1949.3" x2="498.11" y2="1949.3" stroke="#231f20" stroke-width="4.8"/><rect x="473.26" y="1698.6" width="22.2" height="140.3" fill="#fff" stroke="#231f20" stroke-width="4.8" rx="1.5"/><rect x="466.61" y="1781" width="35.5" height="16.2" fill="#231f20"/>
<line x1="524.94" y1="1767.9" x2="524.94" y2="1858.4" stroke="#231f20" stroke-width="5"/><line x1="511.19" y1="1767.9" x2="538.69" y2="1767.9" stroke="#231f20" stroke-width="5"/><line x1="524.94" y1="1941.4" x2="524.94" y2="1949.8" stroke="#231f20" stroke-width="5"/><line x1="511.19" y1="1949.8" x2="538.69" y2="1949.8" stroke="#231f20" stroke-width="5"/><rect x="511.04" y="1858.4" width="27.8" height="83" fill="#9d9591" rx="1.5"/><rect x="516.24" y="1863.6" width="17.4" height="72.6" fill="#231f20"/><rect x="507.19" y="1905.9" width="35.5" height="16.2" fill="#231f20"/>
<line x1="576.64" y1="1581.7" x2="576.64" y2="1591.3" stroke="#231f20" stroke-width="4.8"/><line x1="562.89" y1="1581.7" x2="590.39" y2="1581.7" stroke="#231f20" stroke-width="4.8"/><line x1="576.64" y1="1700.2" x2="576.64" y2="1815.9" stroke="#231f20" stroke-width="4.8"/><line x1="562.89" y1="1815.9" x2="590.39" y2="1815.9" stroke="#231f20" stroke-width="4.8"/><rect x="565.54" y="1593.7" width="22.2" height="104.1" fill="#fff" stroke="#231f20" stroke-width="4.8" rx="1.5"/><rect x="558.89" y="1642.7" width="35.5" height="16.2" fill="#231f20"/>
<line x1="617.06" y1="1627.7" x2="617.06" y2="1734.3" stroke="#231f20" stroke-width="5"/><line x1="603.31" y1="1627.7" x2="630.81" y2="1627.7" stroke="#231f20" stroke-width="5"/><line x1="617.06" y1="1838.4" x2="617.06" y2="1948.5" stroke="#231f20" stroke-width="5"/><line x1="603.31" y1="1948.5" x2="630.81" y2="1948.5" stroke="#231f20" stroke-width="5"/><rect x="603.16" y="1734.3" width="27.8" height="104.1" fill="#9d9591" rx="1.5"/><rect x="608.36" y="1739.5" width="17.4" height="93.7" fill="#231f20"/><rect x="599.31" y="1759.8" width="35.5" height="16.2" fill="#231f20"/>
<rect x="657.82" y="1627.3" width="22.2" height="139.1" fill="#fff" stroke="#231f20" stroke-width="4.8" rx="1.5"/><rect x="651.17" y="1690.1" width="35.5" height="16.2" fill="#231f20"/>
<line x1="709.18" y1="1581.7" x2="709.18" y2="1686.4" stroke="#231f20" stroke-width="5"/><line x1="695.43" y1="1581.7" x2="722.93" y2="1581.7" stroke="#231f20" stroke-width="5"/><line x1="709.18" y1="1769.3" x2="709.18" y2="1861.3" stroke="#231f20" stroke-width="5"/><line x1="695.43" y1="1861.3" x2="722.93" y2="1861.3" stroke="#231f20" stroke-width="5"/><rect x="695.28" y="1686.4" width="27.8" height="82.9" fill="#9d9591" rx="1.5"/><rect x="700.48" y="1691.6" width="17.4" height="72.5" fill="#231f20"/><rect x="691.43" y="1733.9" width="35.5" height="16.2" fill="#231f20"/>
<line x1="761.2" y1="1581.7" x2="761.2" y2="1600.9" stroke="#231f20" stroke-width="4.8"/><line x1="747.45" y1="1581.7" x2="774.95" y2="1581.7" stroke="#231f20" stroke-width="4.8"/><line x1="761.2" y1="1698.8" x2="761.2" y2="1720.8" stroke="#231f20" stroke-width="4.8"/><line x1="747.45" y1="1720.8" x2="774.95" y2="1720.8" stroke="#231f20" stroke-width="4.8"/><rect x="750.1" y="1603.3" width="22.2" height="93.1" fill="#fff" stroke="#231f20" stroke-width="4.8" rx="1.5"/><rect x="743.45" y="1666.1" width="35.5" height="16.2" fill="#231f20"/>
<line x1="801.3" y1="1581.7" x2="801.3" y2="1628.5" stroke="#231f20" stroke-width="5"/><line x1="787.55" y1="1581.7" x2="815.05" y2="1581.7" stroke="#231f20" stroke-width="5"/><line x1="801.3" y1="1769.3" x2="801.3" y2="1861.3" stroke="#231f20" stroke-width="5"/><line x1="787.55" y1="1861.3" x2="815.05" y2="1861.3" stroke="#231f20" stroke-width="5"/><rect x="787.4" y="1628.5" width="27.8" height="140.8" fill="#9d9591" rx="1.5"/><rect x="792.6" y="1633.7" width="17.4" height="130.4" fill="#231f20"/><rect x="783.55" y="1691.5" width="35.5" height="16.2" fill="#231f20"/>
<line x1="853.48" y1="1581.7" x2="853.48" y2="1636.1" stroke="#231f20" stroke-width="4.8"/><line x1="839.73" y1="1581.7" x2="867.23" y2="1581.7" stroke="#231f20" stroke-width="4.8"/><rect x="842.38" y="1638.5" width="22.2" height="127" fill="#fff" stroke="#231f20" stroke-width="4.8" rx="1.5"/><rect x="835.73" y="1711.8" width="35.5" height="16.2" fill="#231f20"/>
<line x1="893.42" y1="1581.7" x2="893.42" y2="1686.4" stroke="#231f20" stroke-width="5"/><line x1="879.67" y1="1581.7" x2="907.17" y2="1581.7" stroke="#231f20" stroke-width="5"/><line x1="893.42" y1="1769.3" x2="893.42" y2="1861.3" stroke="#231f20" stroke-width="5"/><line x1="879.67" y1="1861.3" x2="907.17" y2="1861.3" stroke="#231f20" stroke-width="5"/><rect x="879.52" y="1686.4" width="27.8" height="82.9" fill="#9d9591" rx="1.5"/><rect x="884.72" y="1691.6" width="17.4" height="72.5" fill="#231f20"/><rect x="875.67" y="1733.9" width="35.5" height="16.2" fill="#231f20"/>
<line x1="945.76" y1="1627.7" x2="945.76" y2="1637" stroke="#231f20" stroke-width="4.8"/><line x1="932.01" y1="1627.7" x2="959.51" y2="1627.7" stroke="#231f20" stroke-width="4.8"/><line x1="945.76" y1="1721.4" x2="945.76" y2="1767.9" stroke="#231f20" stroke-width="4.8"/><line x1="932.01" y1="1767.9" x2="959.51" y2="1767.9" stroke="#231f20" stroke-width="4.8"/><rect x="934.66" y="1639.4" width="22.2" height="79.6" fill="#fff" stroke="#231f20" stroke-width="4.8" rx="1.5"/><rect x="928.01" y="1690.1" width="35.5" height="16.2" fill="#231f20"/>
<line x1="985.54" y1="1581.7" x2="985.54" y2="1686.4" stroke="#231f20" stroke-width="5"/><line x1="971.79" y1="1581.7" x2="999.29" y2="1581.7" stroke="#231f20" stroke-width="5"/><line x1="985.54" y1="1756.6" x2="985.54" y2="1815.9" stroke="#231f20" stroke-width="5"/><line x1="971.79" y1="1815.9" x2="999.29" y2="1815.9" stroke="#231f20" stroke-width="5"/><rect x="971.64" y="1686.4" width="27.8" height="70.2" fill="#9d9591" rx="1.5"/><rect x="976.84" y="1691.6" width="17.4" height="59.8" fill="#231f20"/><rect x="967.79" y="1711.8" width="35.5" height="16.2" fill="#231f20"/>
<line x1="1038.04" y1="1768.8" x2="1038.04" y2="1815.9" stroke="#231f20" stroke-width="4.8"/><line x1="1024.29" y1="1815.9" x2="1051.79" y2="1815.9" stroke="#231f20" stroke-width="4.8"/><rect x="1026.94" y="1582.1" width="22.2" height="184.3" fill="#fff" stroke="#231f20" stroke-width="4.8" rx="1.5"/><rect x="1020.29" y="1666.1" width="35.5" height="16.2" fill="#231f20"/>
<line x1="1077.66" y1="1581.7" x2="1077.66" y2="1601.7" stroke="#231f20" stroke-width="5"/><line x1="1063.91" y1="1581.7" x2="1091.41" y2="1581.7" stroke="#231f20" stroke-width="5"/><line x1="1077.66" y1="1756.6" x2="1077.66" y2="1767.9" stroke="#231f20" stroke-width="5"/><line x1="1063.91" y1="1767.9" x2="1091.41" y2="1767.9" stroke="#231f20" stroke-width="5"/><rect x="1063.76" y="1601.7" width="27.8" height="154.9" fill="#9d9591" rx="1.5"/><rect x="1068.96" y="1606.9" width="17.4" height="144.5" fill="#231f20"/><rect x="1059.91" y="1688.7" width="35.5" height="16.2" fill="#231f20"/>
<line x1="1130.32" y1="1581.7" x2="1130.32" y2="1600.3" stroke="#231f20" stroke-width="4.8"/><line x1="1116.57" y1="1581.7" x2="1144.07" y2="1581.7" stroke="#231f20" stroke-width="4.8"/><line x1="1130.32" y1="1722.8" x2="1130.32" y2="1815.9" stroke="#231f20" stroke-width="4.8"/><line x1="1116.57" y1="1815.9" x2="1144.07" y2="1815.9" stroke="#231f20" stroke-width="4.8"/><rect x="1119.22" y="1602.7" width="22.2" height="117.7" fill="#fff" stroke="#231f20" stroke-width="4.8" rx="1.5"/><rect x="1112.57" y="1688.7" width="35.5" height="16.2" fill="#231f20"/>
<line x1="1169.78" y1="1581.7" x2="1169.78" y2="1640.5" stroke="#231f20" stroke-width="5"/><line x1="1156.03" y1="1581.7" x2="1183.53" y2="1581.7" stroke="#231f20" stroke-width="5"/><line x1="1169.78" y1="1791.9" x2="1169.78" y2="1861.6" stroke="#231f20" stroke-width="5"/><line x1="1156.03" y1="1861.6" x2="1183.53" y2="1861.6" stroke="#231f20" stroke-width="5"/><rect x="1155.88" y="1640.5" width="27.8" height="151.4" fill="#9d9591" rx="1.5"/><rect x="1161.08" y="1645.7" width="17.4" height="141" fill="#231f20"/><rect x="1152.03" y="1688.7" width="35.5" height="16.2" fill="#231f20"/>
<line x1="1222.6" y1="1581.7" x2="1222.6" y2="1600.6" stroke="#231f20" stroke-width="4.8"/><line x1="1208.85" y1="1581.7" x2="1236.35" y2="1581.7" stroke="#231f20" stroke-width="4.8"/><rect x="1211.5" y="1603" width="22.2" height="162.9" fill="#fff" stroke="#231f20" stroke-width="4.8" rx="1.5"/><rect x="1204.85" y="1711.6" width="35.5" height="16.2" fill="#231f20"/>
<line x1="1261.9" y1="1581.7" x2="1261.9" y2="1639.2" stroke="#231f20" stroke-width="5"/><line x1="1248.15" y1="1581.7" x2="1275.65" y2="1581.7" stroke="#231f20" stroke-width="5"/><line x1="1261.9" y1="1804.2" x2="1261.9" y2="1906.5" stroke="#231f20" stroke-width="5"/><line x1="1248.15" y1="1906.5" x2="1275.65" y2="1906.5" stroke="#231f20" stroke-width="5"/><rect x="1248" y="1639.2" width="27.8" height="165" fill="#9d9591" rx="1.5"/><rect x="1253.2" y="1644.4" width="17.4" height="154.6" fill="#231f20"/><rect x="1244.15" y="1711.6" width="35.5" height="16.2" fill="#231f20"/>
<line x1="1314.88" y1="1581.7" x2="1314.88" y2="1646.6" stroke="#231f20" stroke-width="4.8"/><line x1="1301.13" y1="1581.7" x2="1328.63" y2="1581.7" stroke="#231f20" stroke-width="4.8"/><line x1="1314.88" y1="1743.7" x2="1314.88" y2="1861.6" stroke="#231f20" stroke-width="4.8"/><line x1="1301.13" y1="1861.6" x2="1328.63" y2="1861.6" stroke="#231f20" stroke-width="4.8"/><rect x="1303.78" y="1649" width="22.2" height="92.3" fill="#fff" stroke="#231f20" stroke-width="4.8" rx="1.5"/><rect x="1297.13" y="1711.6" width="35.5" height="16.2" fill="#231f20"/>
<rect x="1340.12" y="1579.8" width="27.8" height="237.9" fill="#9d9591" rx="1.5"/><rect x="1345.32" y="1585" width="17.4" height="227.5" fill="#231f20"/><rect x="1336.27" y="1692.1" width="35.5" height="16.2" fill="#231f20"/>
</g>
</svg></body></html>
